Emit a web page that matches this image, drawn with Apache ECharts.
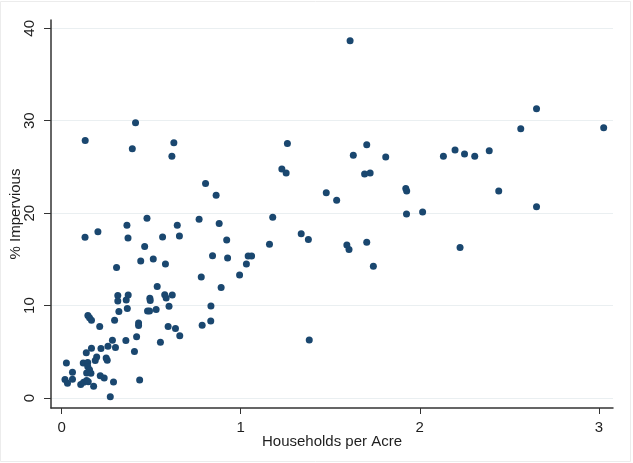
<!DOCTYPE html>
<html>
<head>
<meta charset="utf-8">
<script src="https://cdn.jsdelivr.net/npm/echarts@6/dist/echarts.min.js"></script>
<style>
  html, body { margin: 0; padding: 0; background: #fff; }
  #main { width: 633px; height: 463px; }
</style>
</head>
<body>
<div id="main"></div>
<script>
// 資料：每戶密度 vs 不透水面比例
var households = [
  0.132, 0.413, 0.395, 0.627, 0.616, 0.804, 0.863, 1.179, 1.230, 1.254,
  1.261, 0.477, 0.768, 0.365, 0.203, 0.131, 0.371, 0.564, 0.646, 0.658,
  0.880, 0.922, 1.338, 1.378, 1.611, 2.652, 2.564, 3.027, 1.704, 1.629,
  1.810, 2.132, 2.197, 2.250, 2.307, 2.388, 1.692, 1.723, 1.478, 1.536,
  1.922, 1.927, 2.441, 1.926, 2.016, 2.652, 1.593, 1.605, 1.704, 1.741,
  2.225, 1.383, 1.161, 0.464, 0.442, 0.512, 0.580, 0.843, 0.927, 1.042,
  1.061, 1.032, 0.994, 0.780, 0.891, 0.307, 0.534, 0.314, 0.314, 0.372,
  0.361, 0.493, 0.495, 0.576, 0.584, 0.618, 0.600, 0.834, 0.833, 0.785,
  0.595, 0.636, 0.660, 0.552, 0.320, 0.367, 0.480, 0.491, 0.528, 0.147,
  0.156, 0.167, 0.296, 0.430, 0.430, 0.213, 0.419, 0.284, 0.359, 0.301,
  0.259, 0.220, 0.167, 0.138, 0.407, 0.196, 0.188, 0.249, 0.255, 0.027,
  0.121, 0.146, 0.146, 0.156, 0.140, 0.164, 0.061, 0.061, 0.216, 0.238,
  0.019, 0.033, 0.107, 0.123, 0.140, 0.149, 0.179, 0.290, 0.436, 0.272
];
var impervious = [
  27.87, 29.78, 26.96, 27.61, 26.17, 23.22, 21.95, 19.55, 24.79, 24.35,
  27.53, 19.44, 19.35, 18.68, 17.98, 17.40, 17.31, 17.42, 18.68, 17.53,
  18.88, 17.10, 17.78, 17.14, 38.66, 31.29, 29.13, 29.24, 27.40, 26.28,
  26.09, 26.17, 26.84, 26.41, 26.17, 26.75, 24.24, 24.35, 22.20, 21.41,
  22.67, 22.40, 22.41, 19.92, 20.13, 20.70, 16.56, 16.07, 16.86, 14.26,
  16.29, 6.28, 16.64, 16.39, 14.82, 15.04, 14.50, 15.38, 15.15, 15.37,
  15.37, 14.50, 13.32, 13.10, 11.97, 14.12, 12.07, 11.09, 10.50, 11.15,
  10.60, 10.80, 10.55, 11.17, 10.82, 11.15, 9.93, 9.95, 8.34, 7.87,
  7.74, 7.53, 6.74, 6.03, 9.36, 9.69, 9.42, 9.42, 9.57, 8.92,
  8.68, 8.41, 8.41, 8.11, 7.85, 7.74, 6.63, 6.25, 6.22, 5.47,
  5.60, 5.36, 5.38, 4.89, 5.04, 4.44, 4.05, 4.32, 4.08, 3.78,
  3.78, 3.83, 3.40, 3.05, 2.71, 2.67, 2.80, 2.02, 2.40, 2.17,
  2.00, 1.61, 1.46, 1.70, 1.89, 1.75, 1.27, 1.72, 1.94, 0.13
];
var xTicks = [0, 1, 2, 3];
var yTicks = [0, 10, 20, 30, 40];

var points = households.map(function (x, i) { return [x, impervious[i]]; });

var chart = echarts.init(document.getElementById('main'));

var textColor = '#1e1e1e';
var fontFamily = '"Liberation Sans", Arial, sans-serif';

var option = {
    backgroundColor: '#fff',
    animation: false,
    graphic: [{
        type: 'rect',
        shape: { x: 0.5, y: 1.5, width: 630, height: 460 },
        style: { fill: 'none', stroke: '#ececec', lineWidth: 1 },
        silent: true
    }],
    grid: {
        left: 51,
        right: 20,
        top: 20,
        bottom: 55,
        containLabel: false,
        outerBoundsMode: 'none'
    },
    xAxis: {
        type: 'value',
        min: -0.059,
        max: 3.079,
        name: 'Households per Acre',
        nameLocation: 'middle',
        nameGap: 26,
        nameMoveOverlap: false,
        nameTextStyle: { color: textColor, fontSize: 15, fontFamily: fontFamily },
        axisLine: { onZero: false, lineStyle: { color: '#333', width: 1.5 } },
        axisTick: { show: true, length: 6, customValues: xTicks, lineStyle: { color: '#333' } },
        axisLabel: { customValues: xTicks, color: textColor, fontSize: 15, fontFamily: fontFamily, margin: 12 },
        splitLine: { show: false }
    },
    yAxis: {
        type: 'value',
        min: -1.08,
        max: 40.9,
        name: '% Impervious',
        nameLocation: 'middle',
        nameGap: 28,
        nameRotate: 90,
        nameMoveOverlap: false,
        nameTextStyle: { color: textColor, fontSize: 15, fontFamily: fontFamily },
        axisLine: { show: true, onZero: false, lineStyle: { color: '#333', width: 1.5 } },
        axisTick: { show: true, length: 7, customValues: yTicks, lineStyle: { color: '#333' } },
        axisLabel: { customValues: yTicks, rotate: 90, color: textColor, fontSize: 15, fontFamily: fontFamily, margin: 14 },
        splitLine: { show: true, lineStyle: { color: '#eaeff1', width: 1 } }
    },
    series: [{
        type: 'scatter',
        data: points,
        symbol: 'circle',
        symbolSize: 7,
        itemStyle: { color: '#1a476f', opacity: 1 }
    }]
};

chart.setOption(option);
</script>
</body>
</html>
